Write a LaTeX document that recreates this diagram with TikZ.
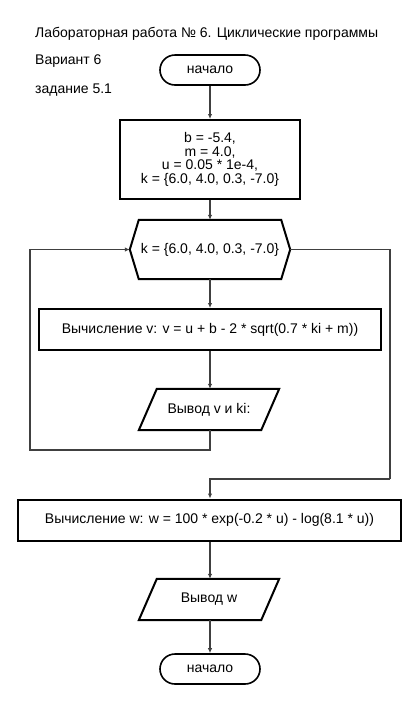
\documentclass[tikz,border=0pt]{standalone}
\usepackage{fontspec}
\setmainfont{Liberation Sans}
\usetikzlibrary{shapes.misc,arrows.meta}

\begin{document}
\begin{tikzpicture}[x=1pt,y=-1pt,font=\fontsize{14}{16}\selectfont]
	\definecolor{linegray}{HTML}{404040}
	\tikzset{
		outline/.style={draw=black,line width=2pt},
		blockbox/.style={outline,minimum height=41pt,inner sep=2pt},
		slotbox/.style={minimum height=41pt,minimum width=140pt,inner sep=2pt},
		term/.style={rounded rectangle,outline,line width=1.6pt,minimum width=100pt,minimum height=30pt,inner sep=0pt},
		flow/.style={linegray,line width=1.6pt,-{Latex[length=5pt,width=4.5pt]}}
	}
	\useasboundingbox (0,0) rectangle (420,705);

	% header
	\node[anchor=base west,inner sep=0pt] (title) at (35,37) {Лабораторная работа № 6. Циклические программы};
	\node[anchor=base west,inner sep=0pt] (variant) at (35,64) {Вариант 6};
	\node[anchor=base west,inner sep=0pt] (task) at (35,93) {задание 5.1};

	% blocks
	\node[term] (start) at (210,70) {начало};
	\node[blockbox,minimum width=180pt,minimum height=79pt,align=center,font=\fontsize{14}{13.5}\selectfont] (init) at (210,159.5)
		{b = -5.4,\\ m = 4.0,\\ u = 0.05 * 1e-4,\\ k = \{6.0, 4.0, 0.3, -7.0\}};
	\node[minimum width=160pt,minimum height=59pt,inner sep=0pt] (loop) at (210,249.5) {k = \{6.0, 4.0, 0.3, -7.0\}};
	\draw[outline] (loop.west) -- ([xshift=9pt]loop.north west) -- ([xshift=-9pt]loop.north east)
		-- (loop.east) -- ([xshift=-9pt]loop.south east) -- ([xshift=9pt]loop.south west) -- cycle;
	\node[blockbox,minimum width=342pt] (calcv) at (210,329.5) {Вычисление v: v = u + b - 2 * sqrt(0.7 * ki + m))};
	\node[slotbox] (outv) at (209,409.5) {Вывод v и ki:};
	\draw[outline] (outv.south west) -- ([xshift=18pt]outv.north west) -- (outv.north east)
		-- ([xshift=-18pt]outv.south east) -- cycle;
	\node[blockbox,minimum width=383pt] (calcw) at (209.5,520) {Вычисление w: w = 100 * exp(-0.2 * u) - log(8.1 * u))};
	\node[slotbox] (outw) at (209,599.5) {Вывод w};
	\draw[outline] (outw.south west) -- ([xshift=18pt]outw.north west) -- (outw.north east)
		-- ([xshift=-18pt]outw.south east) -- cycle;
	\node[term] (finish) at (210,669) {начало};

	% connectors
	\coordinate (backL) at (30,450);
	\coordinate (exitR) at (390,479);
	\draw[flow] (start) -- (init);
	\draw[flow] (init) -- (loop);
	\draw[flow] (loop) -- (calcv);
	\draw[flow] (calcv.south) -- (calcv.south |- outv.north);
	\draw[flow] (outv.south -| calcv.south) |- (backL) |- (loop.west);
	\draw[linegray,line width=1.6pt] (loop.east) -| (exitR);
	\draw[flow] (exitR) -| (calcw.north -| calcv.south);
	\draw[flow] (calcw.south -| calcv.south) -- (calcv.south |- outw.north);
	\draw[flow] (outw.south -| calcv.south) -- (finish);
\end{tikzpicture}
\end{document}
